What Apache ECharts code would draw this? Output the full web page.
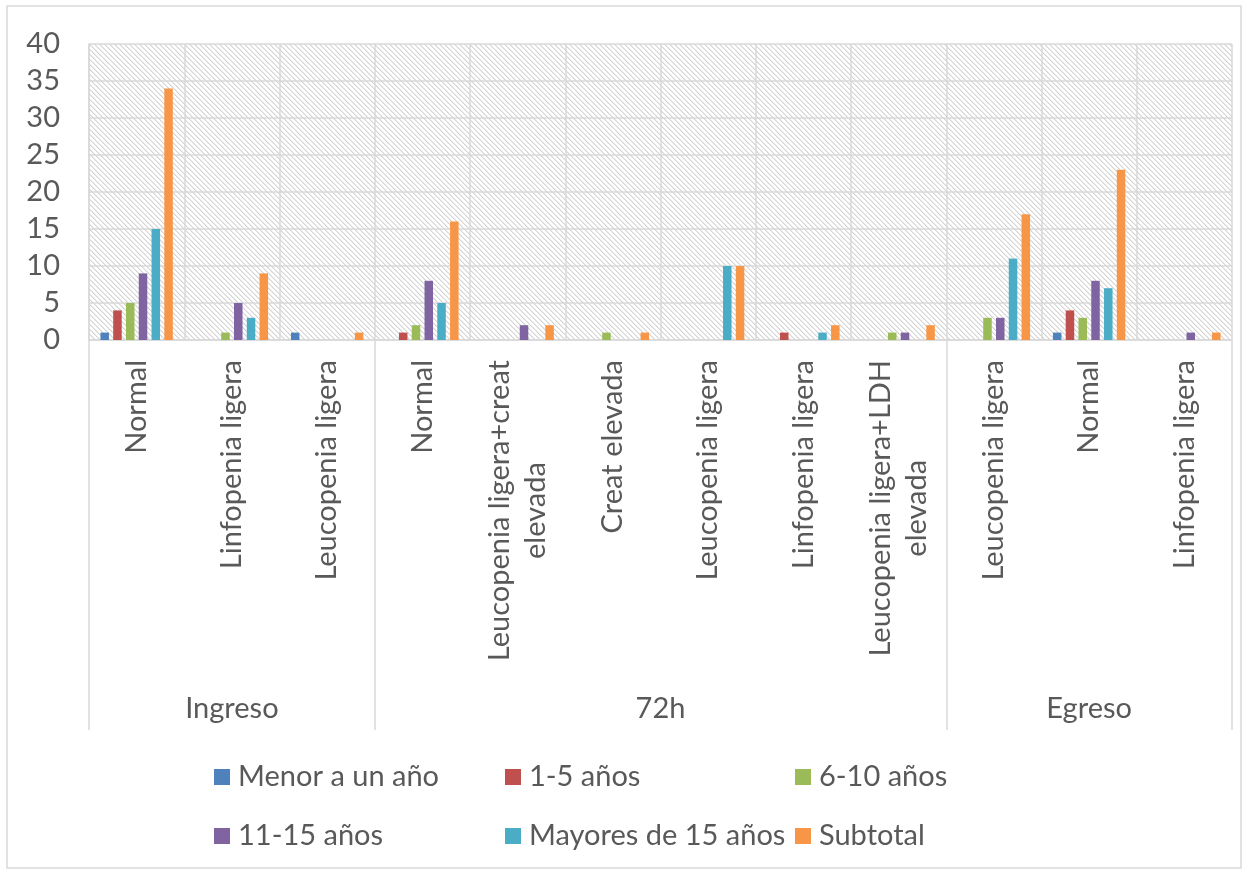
<!DOCTYPE html>
<html>
<head>
<meta charset="utf-8">
<script src="https://cdn.jsdelivr.net/npm/echarts@6/dist/echarts.min.js"></script>
<style>
html,body{margin:0;padding:0;background:#fff;}
#c{width:1249px;height:874px;}
</style>
</head>
<body>
<div id="c"></div>
<script>
// ---- data ----
const groups = ['Ingreso', '72h', 'Egreso'];
const groupSizes = [3, 6, 3];
const categories = [
  'Normal', 'Linfopenia ligera', 'Leucopenia ligera',
  'Normal', 'Leucopenia ligera+creat\nelevada', 'Creat elevada', 'Leucopenia ligera', 'Linfopenia ligera', 'Leucopenia ligera+LDH\nelevada',
  'Leucopenia ligera', 'Normal', 'Linfopenia ligera'
];
const seriesNames = ['Menor a un año', '1-5 años', '6-10 años', '11-15 años', 'Mayores de 15 años', 'Subtotal'];
const menorUnAno   = [1, 0, 1, 0, 0, 0, 0, 0, 0, 0, 1, 0];
const anos1a5      = [4, 0, 0, 1, 0, 0, 0, 1, 0, 0, 4, 0];
const anos6a10     = [5, 1, 0, 2, 0, 1, 0, 0, 1, 3, 3, 0];
const anos11a15    = [9, 5, 0, 8, 2, 0, 0, 0, 1, 3, 8, 1];
const mayores15    = [15, 3, 0, 5, 0, 0, 10, 1, 0, 11, 7, 0];
const subtotal     = [34, 9, 1, 16, 2, 1, 10, 2, 2, 17, 23, 1];
const yTicks = { min: 0, max: 40, interval: 5 };

// ---- styling ----
const colors = ['#4F81BD', '#C0504D', '#9BBB59', '#8064A2', '#4BACC6', '#F79646'];
const FONT = 'Lato';
const FS = 29;
const TXT = '#595959';
const GRID = '#d9d9d9';

// hatch pattern (downward diagonal)
function makeHatch() {
  const s = 5;
  const cv = document.createElement('canvas');
  cv.width = s; cv.height = s;
  const ctx = cv.getContext('2d');
  const img = ctx.createImageData(s, s);
  for (let y = 0; y < s; y++) {
    for (let x = 0; x < s; x++) {
      const k = (((x - y) % s) + s) % s;
      const i = (y * s + x) * 4;
      let v = 255;
      if (k === 0) v = 212;
      else if (k === 1) v = 234;
      img.data[i] = v; img.data[i + 1] = v; img.data[i + 2] = v; img.data[i + 3] = 255;
    }
  }
  ctx.putImageData(img, 0, 0);
  return cv;
}

// group boundaries / centers
const groupStarts = [];
let acc = 0;
groupSizes.forEach(n => { groupStarts.push(acc); acc += n; });
const groupCenters = groupSizes.map((n, i) => groupStarts[i] + n / 2);

const allValues = [menorUnAno, anos1a5, anos6a10, anos11a15, mayores15, subtotal];

const chart = echarts.init(document.getElementById('c'), null, { renderer: 'canvas' });

const option = {
  animation: false,
  color: colors,
  textStyle: { fontFamily: FONT, color: TXT },
  graphic: [{
    type: 'rect', z: -10, silent: true,
    shape: { x: 7, y: 6, width: 1234, height: 862 },
    style: { fill: 'none', stroke: GRID, lineWidth: 1.5 }
  }],
  grid: {
    left: 89, right: 17, top: 44, bottom: 534,
    show: true,
    backgroundColor: { image: makeHatch(), repeat: 'repeat' },
    borderWidth: 0
  },
  legend: [
    { data: [seriesNames[0], seriesNames[3]], left: 214 },
    { data: [seriesNames[1], seriesNames[4]], left: 505 },
    { data: [seriesNames[2], seriesNames[5]], left: 795 }
  ].map(l => Object.assign({
    top: 762, orient: 'vertical', itemGap: 29, itemWidth: 16, itemHeight: 16,
    icon: 'rect', padding: 0, selectedMode: false,
    textStyle: { fontFamily: FONT, fontSize: FS, color: TXT, lineHeight: 30, padding: [0, 0, 0, 3] }
  }, l)),
  xAxis: [{
    type: 'category',
    data: categories,
    position: 'bottom',
    axisLine: { show: true, lineStyle: { color: GRID, width: 1.5 } },
    axisTick: {
      show: true, length: 390,
      interval: (idx) => groupStarts.indexOf(idx) >= 0,
      lineStyle: { color: GRID, width: 1.5 }
    },
    splitLine: { show: true, interval: 0, lineStyle: { color: GRID, width: 1.5 } },
    axisLabel: {
      interval: 0, rotate: 90, margin: 20,
      formatter: (v) => v.split('\n').map(s => '{c|' + s + '}').join('\n'),
      rich: { c: { align: 'center', fontFamily: FONT, fontSize: FS, color: TXT, lineHeight: 36 } }
    }
  }, {
    type: 'value',
    position: 'bottom',
    min: 0, max: categories.length, interval: 1.5,
    axisLine: { show: false }, axisTick: { show: false }, splitLine: { show: false },
    axisLabel: {
      margin: 354, fontFamily: FONT, fontSize: FS, color: TXT,
      showMinLabel: true, showMaxLabel: true,
      formatter: (v) => {
        const gi = groupCenters.findIndex(c => Math.abs(c - v) < 1e-6);
        return gi >= 0 ? groups[gi] : '';
      }
    }
  }],
  yAxis: {
    type: 'value',
    min: yTicks.min, max: yTicks.max, interval: yTicks.interval,
    axisLine: { show: true, lineStyle: { color: GRID, width: 1.5 } },
    axisTick: { show: false },
    splitLine: { show: true, lineStyle: { color: GRID, width: 1.5 } },
    axisLabel: { margin: 29, fontFamily: FONT, fontSize: FS, color: TXT }
  },
  series: seriesNames.map((name, i) => ({
    name, type: 'bar', xAxisIndex: 0,
    data: allValues[i],
    barGap: '50%', barCategoryGap: '24%',
    itemStyle: { color: colors[i] }
  }))
};
chart.setOption(option);
</script>
</body>
</html>
